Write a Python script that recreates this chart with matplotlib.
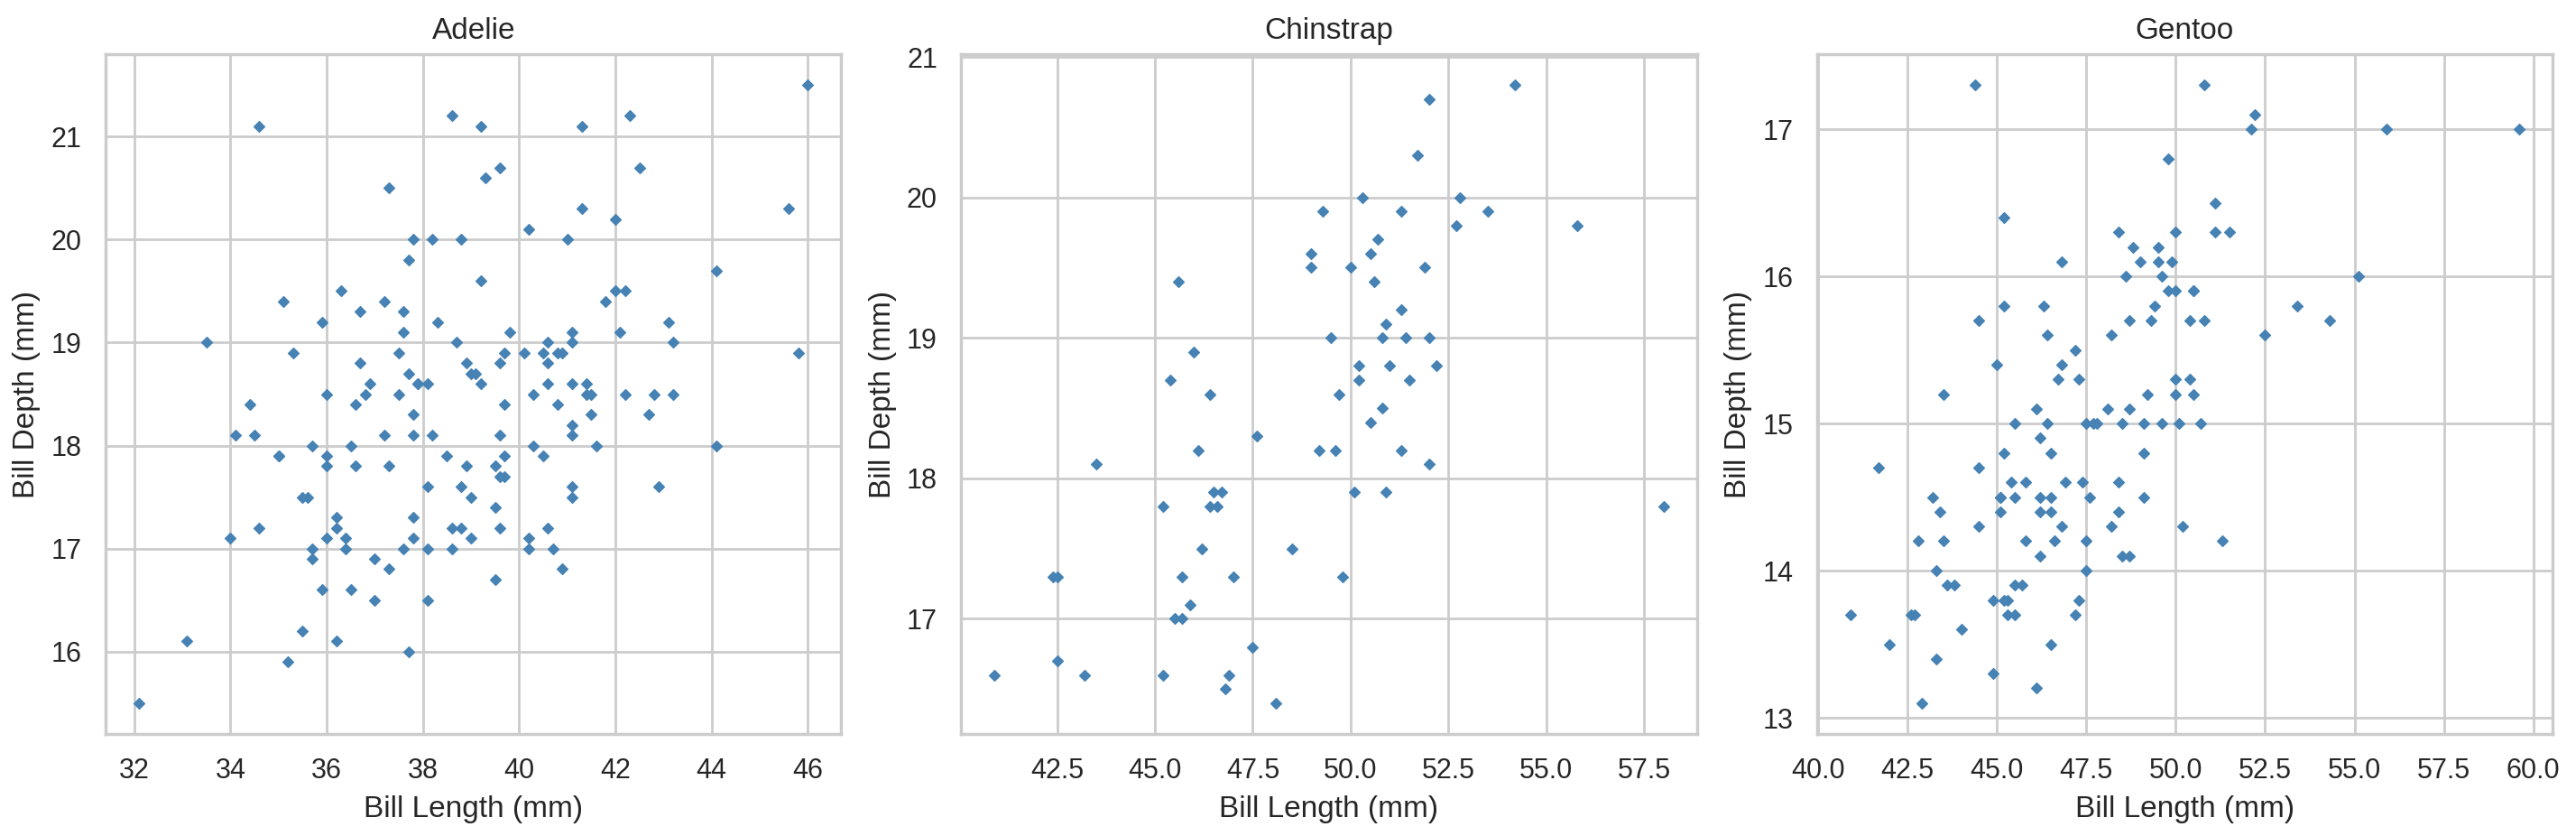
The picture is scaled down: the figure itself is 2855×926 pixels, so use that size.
import numpy as np
import matplotlib.pyplot as plt
import seaborn as sns
from matplotlib.ticker import MultipleLocator

# Adelie bill length / depth (mm)
adelie_len = [39.1, 39.5, 40.3, 36.7, 39.3, 38.9, 39.2, 34.1, 42.0, 37.8, 37.8, 41.1, 38.6, 34.6, 36.6, 38.7,
              42.5, 34.4, 46.0, 37.8, 37.7, 35.9, 38.2, 38.8, 35.3, 40.6, 40.5, 37.9, 40.5, 39.5, 37.2, 39.5,
              40.9, 36.4, 39.2, 38.8, 42.2, 37.6, 39.8, 36.5, 40.8, 36.0, 44.1, 37.0, 39.6, 41.1, 37.5, 36.0,
              42.3, 39.6, 40.1, 35.0, 42.0, 34.5, 41.4, 39.0, 40.6, 36.5, 37.6, 35.7, 41.3, 37.6, 41.1, 36.4,
              41.6, 35.5, 41.1, 35.9, 41.8, 33.5, 39.7, 39.6, 45.8, 35.5, 42.8, 40.9, 37.2, 36.2, 42.1, 34.6,
              42.9, 36.7, 35.1, 37.3, 41.3, 36.3, 36.9, 38.3, 38.9, 35.7, 41.1, 34.0, 39.6, 36.2, 40.8, 38.1,
              40.3, 33.1, 43.2, 35.0, 41.0, 37.7, 37.8, 37.9, 39.7, 38.6, 38.2, 38.1, 43.2, 38.1, 45.6, 39.7,
              42.2, 39.6, 42.7, 38.6, 37.3, 35.7, 41.1, 36.2, 37.7, 40.2, 41.4, 35.2, 40.6, 38.8, 41.5, 39.0,
              44.1, 38.5, 43.1, 36.8, 37.5, 38.1, 41.1, 35.6, 40.2, 37.0, 39.7, 40.2, 40.6, 32.1, 40.7, 37.3,
              39.0, 39.2, 36.6, 36.0, 37.8, 36.0, 41.5]
adelie_dep = [18.7, 17.4, 18.0, 19.3, 20.6, 17.8, 19.6, 18.1, 20.2, 17.1, 17.3, 17.6, 21.2, 21.1, 17.8, 19.0,
              20.7, 18.4, 21.5, 18.3, 18.7, 19.2, 18.1, 17.2, 18.9, 18.6, 17.9, 18.6, 18.9, 16.7, 18.1, 17.8,
              18.9, 17.0, 21.1, 20.0, 18.5, 19.3, 19.1, 18.0, 18.4, 18.5, 19.7, 16.9, 18.8, 19.0, 18.9, 17.9,
              21.2, 17.7, 18.9, 17.9, 19.5, 18.1, 18.6, 17.5, 18.8, 16.6, 19.1, 16.9, 21.1, 17.0, 18.2, 17.1,
              18.0, 16.2, 19.1, 16.6, 19.4, 19.0, 18.4, 17.2, 18.9, 17.5, 18.5, 16.8, 19.4, 16.1, 19.1, 17.2,
              17.6, 18.8, 19.4, 17.8, 20.3, 19.5, 18.6, 19.2, 18.8, 18.0, 18.1, 17.1, 18.1, 17.3, 18.9, 18.6,
              18.5, 16.1, 18.5, 17.9, 20.0, 16.0, 20.0, 18.6, 18.9, 17.2, 20.0, 17.0, 19.0, 16.5, 20.3, 17.7,
              19.5, 20.7, 18.3, 17.0, 20.5, 17.0, 18.6, 17.2, 19.8, 17.0, 18.5, 15.9, 19.0, 17.6, 18.3, 17.1,
              18.0, 17.9, 19.2, 18.5, 18.5, 17.6, 17.5, 17.5, 20.1, 16.5, 17.9, 17.1, 17.2, 15.5, 17.0, 16.8,
              18.7, 18.6, 18.4, 17.8, 18.1, 17.1, 18.5]

# Chinstrap
chin_len = [46.5, 50.0, 51.3, 45.4, 52.7, 45.2, 46.1, 51.3, 46.0, 51.3, 46.6, 51.7, 47.0, 52.0, 45.9, 50.5,
            50.3, 58.0, 46.4, 49.2, 42.4, 48.5, 43.2, 50.6, 46.7, 52.0, 50.5, 49.5, 46.4, 52.8, 40.9, 54.2,
            42.5, 51.0, 49.7, 47.5, 47.6, 52.0, 46.9, 53.5, 49.0, 46.2, 50.9, 45.5, 50.9, 50.8, 50.1, 49.0,
            51.5, 49.8, 48.1, 51.4, 45.7, 50.7, 42.5, 52.2, 45.2, 49.3, 50.2, 45.6, 51.9, 46.8, 45.7, 55.8,
            43.5, 49.6, 50.8, 50.2]
chin_dep = [17.9, 19.5, 19.2, 18.7, 19.8, 17.8, 18.2, 18.2, 18.9, 19.9, 17.8, 20.3, 17.3, 18.1, 17.1, 19.6,
            20.0, 17.8, 18.6, 18.2, 17.3, 17.5, 16.6, 19.4, 17.9, 19.0, 18.4, 19.0, 17.8, 20.0, 16.6, 20.8,
            16.7, 18.8, 18.6, 16.8, 18.3, 20.7, 16.6, 19.9, 19.5, 17.5, 19.1, 17.0, 17.9, 18.5, 17.9, 19.6,
            18.7, 17.3, 16.4, 19.0, 17.3, 19.7, 17.3, 18.8, 16.6, 19.9, 18.8, 19.4, 19.5, 16.5, 17.0, 19.8,
            18.1, 18.2, 19.0, 18.7]

# Gentoo
gentoo_len = [46.1, 50.0, 48.7, 50.0, 47.6, 46.5, 45.4, 46.7, 43.3, 46.8, 40.9, 49.0, 45.5, 48.4, 45.8, 49.3,
              42.0, 49.2, 46.2, 48.7, 50.2, 45.1, 46.5, 46.3, 42.9, 46.1, 44.5, 47.8, 48.2, 50.0, 47.3, 42.8,
              45.1, 59.6, 49.1, 48.4, 42.6, 44.4, 44.0, 48.7, 42.7, 49.6, 45.3, 49.6, 50.5, 43.6, 45.5, 50.5,
              44.9, 45.2, 46.6, 48.5, 45.1, 50.1, 46.5, 45.0, 43.8, 45.5, 43.2, 50.4, 45.3, 46.2, 45.7, 54.3,
              45.8, 49.8, 46.2, 49.5, 43.5, 50.7, 47.7, 46.4, 48.2, 46.5, 46.4, 48.6, 47.5, 51.1, 45.2, 45.2,
              49.1, 52.5, 47.4, 50.0, 44.9, 50.8, 43.4, 51.3, 47.5, 52.1, 47.5, 52.2, 45.5, 49.5, 44.5, 50.8,
              49.4, 46.9, 48.4, 51.1, 48.5, 55.9, 47.2, 49.1, 47.3, 46.8, 41.7, 53.4, 43.3, 48.1, 50.5, 49.8,
              43.5, 51.5, 46.2, 55.1, 44.5, 48.8, 47.2, 46.8, 50.4, 45.2, 49.9]
gentoo_dep = [13.2, 16.3, 14.1, 15.2, 14.5, 13.5, 14.6, 15.3, 13.4, 15.4, 13.7, 16.1, 13.7, 14.6, 14.6, 15.7,
              13.5, 15.2, 14.5, 15.1, 14.3, 14.5, 14.5, 15.8, 13.1, 15.1, 14.3, 15.0, 14.3, 15.3, 15.3, 14.2,
              14.5, 17.0, 14.8, 16.3, 13.7, 17.3, 13.6, 15.7, 13.7, 16.0, 13.7, 15.0, 15.9, 13.9, 13.9, 15.9,
              13.3, 15.8, 14.2, 14.1, 14.4, 15.0, 14.4, 15.4, 13.9, 15.0, 14.5, 15.3, 13.8, 14.9, 13.9, 15.7,
              14.2, 16.8, 14.4, 16.2, 14.2, 15.0, 15.0, 15.6, 15.6, 14.8, 15.0, 16.0, 14.2, 16.3, 13.8, 16.4,
              14.5, 15.6, 14.6, 15.9, 13.8, 17.3, 14.4, 14.2, 14.0, 17.0, 15.0, 17.1, 14.5, 16.1, 14.7, 15.7,
              15.8, 14.6, 14.4, 16.5, 15.0, 17.0, 15.5, 15.0, 13.8, 16.1, 14.7, 15.8, 14.0, 15.1, 15.2, 15.9,
              15.2, 16.3, 14.1, 16.0, 15.7, 16.2, 13.7, 14.3, 15.7, 14.8, 16.1]

species = ["Adelie", "Chinstrap", "Gentoo"]
lengths = [adelie_len, chin_len, gentoo_len]
depths = [adelie_dep, chin_dep, gentoo_dep]
x_steps = [2, 2.5, 2.5]

sns.set_theme(style="whitegrid")
plt.rcParams['font.family'] = ['Liberation Sans', 'DejaVu Sans']

W, H = 2855, 926
fig, axes = plt.subplots(1, 3, figsize=(W / 200, H / 200), dpi=200)
fig.subplots_adjust(left=117 / W, right=2829 / W, bottom=1 - 813 / H, top=1 - 60 / H, wspace=0.163)

for ax, name, x, y, step in zip(axes, species, lengths, depths, x_steps):
    ax.scatter(x, y, marker='D', s=9, color='steelblue', linewidths=0.5, edgecolors='steelblue')
    ax.xaxis.set_major_locator(MultipleLocator(step))
    ax.set_title(name)
    ax.set_xlabel("Bill Length (mm)")
    ax.set_ylabel("Bill Depth (mm)")

plt.savefig("out.png", dpi=200)
